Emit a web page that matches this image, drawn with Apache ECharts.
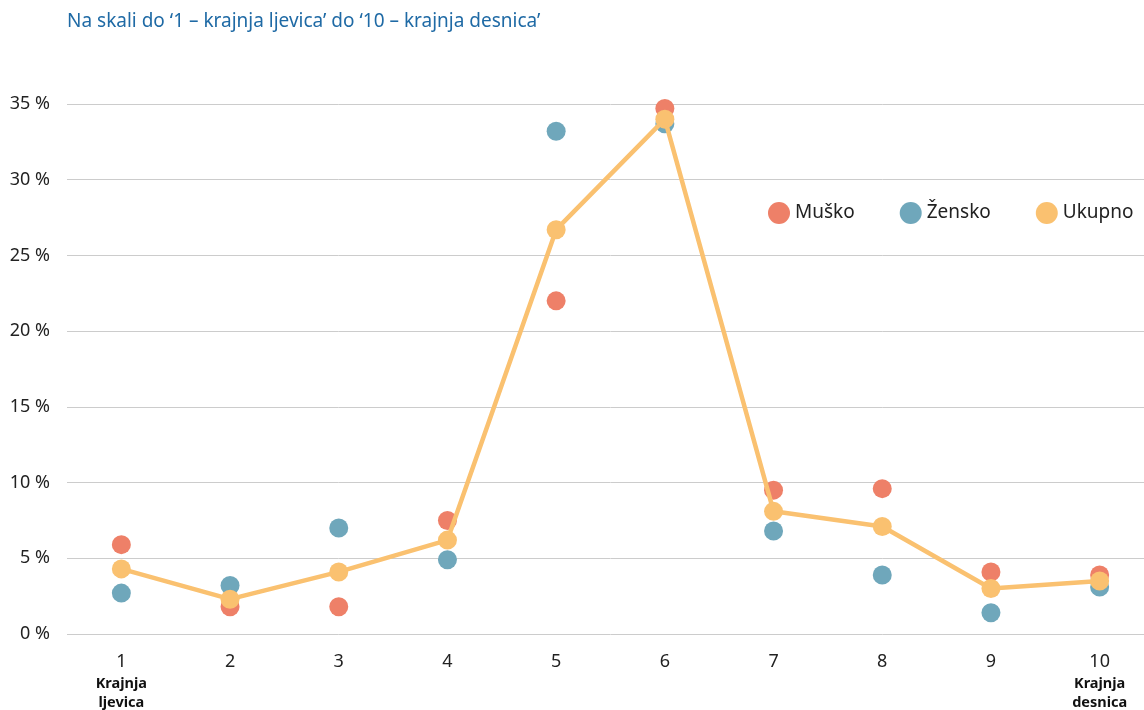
<!DOCTYPE html>
<html>
<head>
<meta charset="utf-8">
<script src="https://cdn.jsdelivr.net/npm/echarts@6/dist/echarts.min.js"></script>
<style>html,body{margin:0;padding:0;background:#fff;overflow:hidden}#c{width:1154px;height:710px}</style>
</head>
<body>
<div id="c"></div>
<script>
const categories = ['1','2','3','4','5','6','7','8','9','10'];
const subLabels = {'1':'Krajnja\nljevica','10':'Krajnja\ndesnica'};
const musko = [5.9,1.8,1.8,7.5,22.0,34.7,9.5,9.6,4.1,3.9];
const zensko = [2.7,3.2,7.0,4.9,33.2,33.7,6.8,3.9,1.4,3.1];
const ukupno = [4.3,2.3,4.1,6.2,26.7,34.0,8.1,7.1,3.0,3.5];
const yTicks = [0,5,10,15,20,25,30,35];

const font = '"Noto Sans", "Open Sans", sans-serif';
const chart = echarts.init(document.getElementById('c'));
chart.setOption({
  animation:false,
  title:{text:'Na skali do ‘1 – krajnja ljevica’ do ‘10 – krajnja desnica’',left:62,top:7,
    textStyle:{color:'#1f6aa5',fontSize:19,fontWeight:'normal',fontFamily:font}},
  legend:{data:['Muško','Žensko','Ukupno'],left:763,top:197,icon:'circle',itemWidth:22,itemHeight:22,itemGap:45,
    textStyle:{fontSize:19,color:'#222',fontFamily:font}},
  grid:{left:67,right:0,top:104,bottom:76},
  xAxis:{type:'category',data:categories,axisLine:{show:false},axisTick:{show:false},
    axisLabel:{margin:16,interval:0,fontFamily:font,
      formatter:function(v){let s='{n|'+v+'}';if(subLabels[v]){s+='\n'+subLabels[v].split('\n').map(x=>'{b|'+x+'}').join('\n');}return s;},
      rich:{n:{fontSize:18,color:'#222',lineHeight:24,fontFamily:font},b:{fontSize:14.5,fontWeight:'bold',color:'#111',lineHeight:19,fontFamily:font}}}},
  yAxis:{type:'value',min:0,max:35,interval:5,axisLine:{show:false},axisTick:{show:false},
    splitLine:{lineStyle:{color:'#cccccc',width:1}},
    axisLabel:{margin:17,fontSize:18,color:'#222',fontFamily:font,formatter:function(v){return yTicks.includes(v)?v+' %':'';}}},
  series:[
    {name:'Muško',type:'scatter',data:musko,symbolSize:19,itemStyle:{color:'#ee8068',opacity:1},z:2},
    {name:'Žensko',type:'scatter',data:zensko,symbolSize:19,itemStyle:{color:'#6fa7bb',opacity:1},z:3},
    {name:'Ukupno',type:'line',data:ukupno,symbol:'circle',symbolSize:19,lineStyle:{color:'#fac170',width:4.5},itemStyle:{color:'#fac170',opacity:1},z:4}
  ]
});
</script>
</body>
</html>
